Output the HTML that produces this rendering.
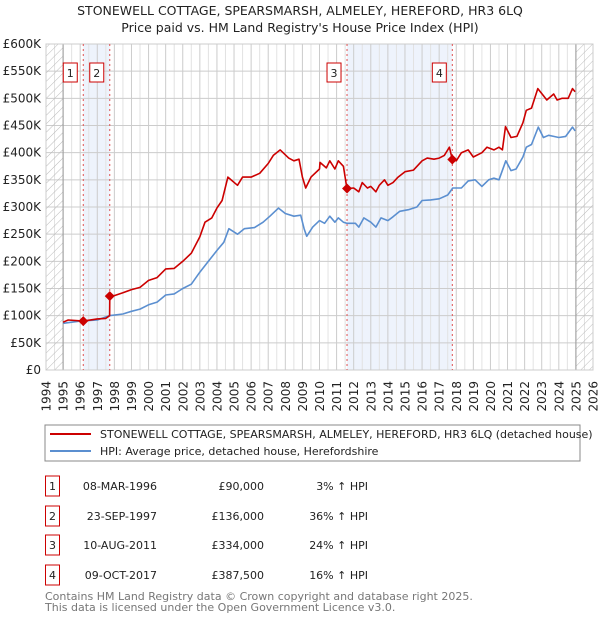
<!DOCTYPE html>
<html><head><meta charset="utf-8"><style>
body{margin:0;background:#fff;font-family:"Liberation Sans","DejaVu Sans",sans-serif;}
svg text{font-family:"DejaVu Sans","Liberation Sans",sans-serif;}
</style></head><body>
<svg id="c" width="600" height="620" xmlns="http://www.w3.org/2000/svg">
<defs><pattern id="h" width="6" height="6" patternUnits="userSpaceOnUse" patternTransform="rotate(45)"><line x1="0" y1="0" x2="0" y2="6" stroke="#bbb" stroke-width="1"/></pattern></defs>
<text x="300" y="15" text-anchor="middle" font-size="12.5" fill="#222">STONEWELL COTTAGE, SPEARSMARSH, ALMELEY, HEREFORD, HR3 6LQ</text>
<text x="300" y="32" text-anchor="middle" font-size="12.5" fill="#222">Price paid vs. HM Land Registry's House Price Index (HPI)</text>
<g id="plot"></g>
<rect x="45" y="425" width="535" height="36" fill="#fff" stroke="#888"/>
<line x1="50" y1="434" x2="91" y2="434" stroke="#cc0000" stroke-width="2"/>
<text x="100" y="438" font-size="11" fill="#222">STONEWELL COTTAGE, SPEARSMARSH, ALMELEY, HEREFORD, HR3 6LQ (detached house)</text>
<line x1="50" y1="451" x2="91" y2="451" stroke="#5b8fd0" stroke-width="2"/>
<text x="100" y="455" font-size="11" fill="#222">HPI: Average price, detached house, Herefordshire</text>
<g id="tbl"></g>
<text x="45" y="600" font-size="11" fill="#777">Contains HM Land Registry data © Crown copyright and database right 2025.</text>
<text x="45" y="611" font-size="11" fill="#777">This data is licensed under the Open Government Licence v3.0.</text>
</svg>
<script>
const yTicks=[0,50000,100000,150000,200000,250000,300000,350000,400000,450000,500000,550000,600000];
const yTickLabels=["£0","£50K","£100K","£150K","£200K","£250K","£300K","£350K","£400K","£450K","£500K","£550K","£600K"];
const years=[1994,1995,1996,1997,1998,1999,2000,2001,2002,2003,2004,2005,2006,2007,2008,2009,2010,2011,2012,2013,2014,2015,2016,2017,2018,2019,2020,2021,2022,2023,2024,2025,2026];
const redT=[1995,1995.3,1996.18,1997,1997.5,1997.72,1997.73,1998,1998.5,1999,1999.5,2000,2000.5,2001,2001.5,2002,2002.5,2003,2003.3,2003.7,2004,2004.3,2004.64,2005.2,2005.5,2006,2006.5,2007,2007.3,2007.7,2008.2,2008.5,2008.8,2009,2009.19,2009.5,2010,2010.03,2010.4,2010.6,2010.9,2011.1,2011.4,2011.55,2011.61,2012,2012.3,2012.5,2012.8,2013,2013.3,2013.5,2013.8,2014,2014.3,2014.6,2015,2015.5,2016,2016.3,2016.7,2017,2017.3,2017.6,2017.77,2018,2018.3,2018.7,2019,2019.5,2019.8,2020.2,2020.5,2020.7,2020.88,2021.2,2021.55,2021.9,2022.1,2022.4,2022.77,2023.1,2023.3,2023.7,2023.9,2024.2,2024.55,2024.8,2024.95];
const redV=[88000,92000,90000,94000,95000,100000,136000,137000,142000,148000,152000,165000,170000,186000,187000,200000,215000,245000,272000,280000,298000,312000,355000,340000,355000,355000,362000,380000,395000,405000,390000,385000,388000,355000,335000,355000,370000,382000,372000,385000,370000,385000,375000,345000,334000,335000,328000,345000,335000,338000,328000,340000,350000,340000,345000,355000,365000,368000,385000,390000,388000,390000,395000,410000,387500,385000,400000,405000,392000,400000,410000,405000,410000,405000,448000,428000,430000,455000,478000,482000,518000,505000,497000,508000,497000,500000,500000,518000,512000];
const hpiT=[1995,1996,1997,1997.7,1998.5,1999,1999.5,2000,2000.5,2001,2001.5,2002,2002.5,2003,2003.5,2004,2004.4,2004.7,2005.2,2005.6,2006.2,2006.7,2007.1,2007.6,2008,2008.5,2008.9,2009.1,2009.25,2009.6,2010,2010.3,2010.6,2010.9,2011.1,2011.4,2011.6,2012.1,2012.3,2012.6,2013,2013.3,2013.6,2014,2014.3,2014.7,2015.2,2015.7,2016,2016.5,2017,2017.5,2017.8,2018.3,2018.7,2019.1,2019.5,2019.9,2020.2,2020.5,2020.9,2021.2,2021.5,2021.9,2022.1,2022.4,2022.8,2023.1,2023.4,2023.7,2024,2024.4,2024.8,2024.95];
const hpiV=[86000,90000,92000,100000,103000,108000,112000,120000,125000,138000,140000,150000,158000,180000,200000,220000,235000,260000,250000,260000,262000,272000,283000,298000,288000,283000,285000,260000,246000,263000,275000,270000,283000,272000,280000,272000,270000,270000,263000,280000,272000,263000,280000,275000,282000,292000,295000,300000,312000,313000,315000,322000,335000,335000,348000,350000,338000,350000,353000,350000,385000,367000,370000,392000,410000,415000,447000,428000,432000,430000,428000,430000,447000,440000];
const saleLabels=["1","2","3","4"];
const saleT=[1996.18,1997.73,2011.61,2017.77];
const saleV=[90000,136000,334000,387500];
const saleDates=["08-MAR-1996","23-SEP-1997","10-AUG-2011","09-OCT-2017"];
const salePrices=["£90,000","£136,000","£334,000","£387,500"];
const saleHpi=["3% ↑ HPI","36% ↑ HPI","24% ↑ HPI","16% ↑ HPI"];

const NS="http://www.w3.org/2000/svg";
const X0=46,X1=593,Y0=370,Y1=44;
const x=t=>X0+(t-1994)/(2026-1994)*(X1-X0);
const y=v=>Y0-v/600000*(Y0-Y1);
const plot=document.getElementById('plot');
function mk(tag,at,parent){const e=document.createElementNS(NS,tag);for(const k in at)e.setAttribute(k,at[k]);(parent||plot).appendChild(e);return e;}
let b1=mk('rect',{x:x(saleT[0]),y:Y1,width:x(saleT[1])-x(saleT[0]),height:Y0-Y1,fill:'#eef3fc'});


let b2=mk('rect',{x:x(saleT[2]),y:Y1,width:x(saleT[3])-x(saleT[2]),height:Y0-Y1,fill:'#eef3fc'});


years.forEach(yr=>{let l=mk('line',{x1:x(yr),x2:x(yr),y1:Y1,y2:Y0,stroke:'#ccc','stroke-width':1});


let tx=x(yr)+4.5;
let t=mk('text',{x:tx,y:381,'text-anchor':'end','font-size':12,fill:'#222',transform:`rotate(-90 ${tx} 381)`});t.textContent=yr;

});
for(let i=0;i<2*(years.length-1);i++){let t=1994+i*0.5;if(t%1){mk('line',{x1:x(t),x2:x(t),y1:Y1,y2:Y0,stroke:'#e2e2e2','stroke-width':1});}}
yTicks.forEach((v,i)=>{let l=mk('line',{x1:X0,x2:X1,y1:y(v),y2:y(v),stroke:'#ccc','stroke-width':1});


let t=mk('text',{x:41,y:y(v)+4,'text-anchor':'end','font-size':12,fill:'#222'});t.textContent=yTickLabels[i];

});
let h1=mk('rect',{x:X0,y:Y1,width:x(1995)-X0,height:Y0-Y1,fill:'url(#h)'});


let h2=mk('rect',{x:x(2025),y:Y1,width:X1-x(2025),height:Y0-Y1,fill:'url(#h)'});


mk('line',{x1:x(1995),x2:x(1995),y1:Y1,y2:Y0,stroke:'#999'});
mk('line',{x1:x(2025),x2:x(2025),y1:Y1,y2:Y0,stroke:'#999'});
mk('rect',{x:X0,y:Y1,width:X1-X0,height:Y0-Y1,fill:'none',stroke:'#ccc'});
saleT.forEach((t,i)=>{let l=mk('line',{x1:x(t),x2:x(t),y1:Y1,y2:Y0,stroke:'#e05050','stroke-dasharray':'2,3','stroke-width':1});


let r=mk('rect',{x:x(t)-20,y:63,width:14,height:19,fill:'#fff',stroke:'#cc0000'});


let tx=mk('text',{x:x(t)-13,y:77,'text-anchor':'middle','font-size':11,fill:'#222'});tx.textContent=saleLabels[i];});
function path(T,V,col,name){let d=T.map((t,i)=>(i?'L':'M')+x(t).toFixed(1)+','+y(V[i]).toFixed(1)).join('');
let p=mk('path',{d:d,fill:'none',stroke:col,'stroke-width':1.6,'stroke-linejoin':'round'});

}
path(hpiT,hpiV,'#5b8fd0','hpi-line');
path(redT,redV,'#cc0000','price-paid-line');
saleT.forEach((t,i)=>{let cx=x(t),cy=y(saleV[i]);
let d=mk('path',{d:`M${cx},${cy-5}L${cx+5},${cy}L${cx},${cy+5}L${cx-5},${cy}Z`,fill:'#cc0000'});

});
const tbl=document.getElementById('tbl');
const rowY=[486,516,545,575];
saleT.forEach((t,i)=>{let cy=rowY[i];
let r=mk('rect',{x:45.5,y:cy-10,width:14,height:20,fill:'#fff',stroke:'#cc0000'},tbl);


let a=mk('text',{x:52.5,y:cy+4,'text-anchor':'middle','font-size':11,fill:'#222'},tbl);a.textContent=saleLabels[i];
let b=mk('text',{x:157,y:cy+4,'text-anchor':'end','font-size':11,fill:'#222'},tbl);b.textContent=saleDates[i];


let c=mk('text',{x:264,y:cy+4,'text-anchor':'end','font-size':11,fill:'#222'},tbl);c.textContent=salePrices[i];


let e=mk('text',{x:368,y:cy+4,'text-anchor':'end','font-size':11,fill:'#222'},tbl);e.textContent=saleHpi[i];

});
</script>
</body></html>
